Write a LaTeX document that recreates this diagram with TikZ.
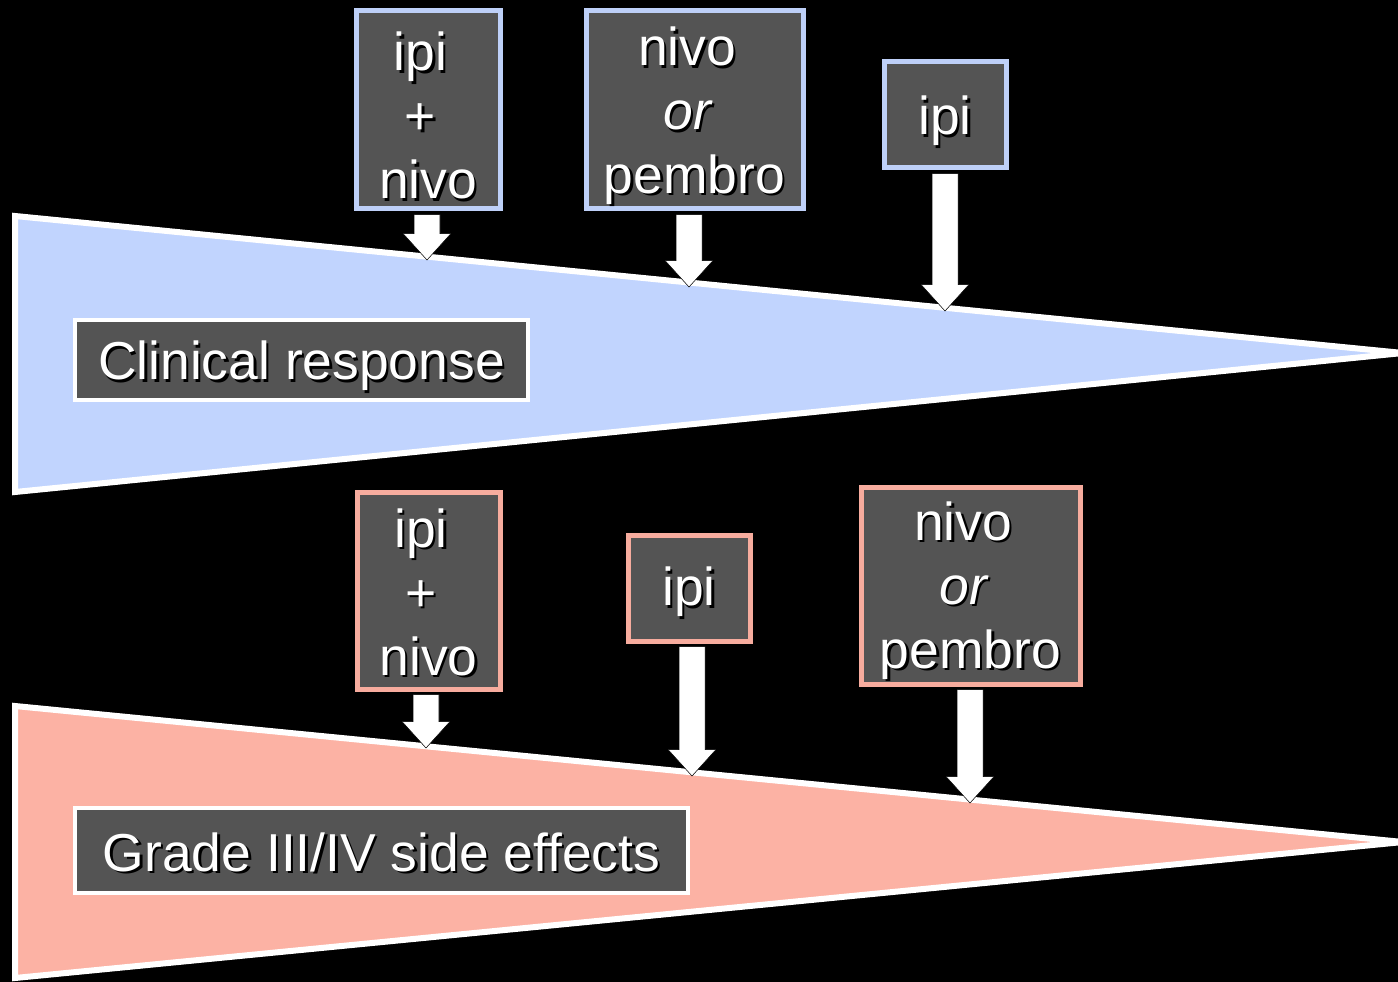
\documentclass[tikz,border=0pt]{standalone}
\usepackage{fontspec}
\setmainfont{Liberation Sans}
\usetikzlibrary{calc}
\newdimen\pxu \pxu=0.02cm
\definecolor{respblue}{RGB}{193,212,254}
\definecolor{sidesalmon}{RGB}{252,178,164}
\definecolor{boxgray}{RGB}{84,84,84}
\definecolor{boxblue}{RGB}{190,208,248}
\definecolor{boxsalmon}{RGB}{247,172,158}
\newcommand{\shtxt}[1]{\makebox[0pt][l]{\hspace{1.4pt}\raisebox{-1.4pt}{\color{black}#1}}#1}
\newcommand{\tsp}{\hbox to 0.278em{}}
% #1 box anchor, #2 tip coordinate
\newcommand{\blockarrow}[2]{%
  \filldraw[white, draw=black, line width=0.3pt] let \p1=(#1 -| #2), \p2=(#2) in
    (\x1-7.4pt,\y1-1.8pt) -- (\x1-7.4pt,\y2+15pt) -- (\x1-13.6pt,\y2+15pt) -- (\x1,\y2)
    -- (\x1+13.6pt,\y2+15pt) -- (\x1+7.4pt,\y2+15pt) -- (\x1+7.4pt,\y1-1.8pt) -- cycle;}
\begin{document}
\begin{tikzpicture}[x=0.02cm, y=-0.02cm,
  wedge/.style={draw=white, line width=6\pxu, line join=miter},
  drugbox/.style={fill=boxgray, line width=5\pxu, inner sep=0pt},
  bluebox/.style={drugbox, draw=boxblue},
  salmonbox/.style={drugbox, draw=boxsalmon},
  labelbox/.style={fill=boxgray, draw=white, line width=4\pxu, inner sep=0pt},
  boxtext/.style={inner sep=0pt, align=center, text=white,
    font=\fontsize{30.4}{36.4}\selectfont}]
\fill[black] (0,0) rectangle (1398,982);
\useasboundingbox (0,0) rectangle (1398,982);
\clip (0,0) rectangle (1398,982);

% wedges
\draw[wedge, fill=respblue] (15,216) -- (1403,353) -- (15,492) -- cycle;
\draw[wedge, fill=sidesalmon] (15,706) -- (1403,842) -- (15,978) -- cycle;

% label boxes
\node[labelbox, minimum width=453\pxu, minimum height=80\pxu] (resp) at (301.5,360) {};
\node[boxtext] (resptext) at ([yshift=-7\pxu]resp.center) {\shtxt{Clinical response}};
\node[labelbox, minimum width=613\pxu, minimum height=85\pxu] (side) at (381.5,850.5) {};
\node[boxtext] (sidetext) at ([yshift=-3\pxu]side.center) {\shtxt{Grade III/IV side effects}};

% drug boxes (top)
\node[bluebox, minimum width=144\pxu, minimum height=198\pxu] (b1) at (428,110) {};
\node[boxtext] (b1text) at ([yshift=-7\pxu]b1.center) {\shtxt{ipi}\tsp\\\shtxt{+}\tsp\\\shtxt{nivo}};
\node[bluebox, minimum width=217\pxu, minimum height=198\pxu] (b2) at (694.5,110) {};
\node[boxtext] (b2text) at ([yshift=-7\pxu]b2.center) {\shtxt{nivo}\tsp\\\shtxt{\itshape or}\tsp\\\shtxt{pembro}};
\node[bluebox, minimum width=122\pxu, minimum height=106\pxu] (b3) at (945,115) {};
\node[boxtext] (b3text) at ([yshift=-7\pxu]b3.center) {\shtxt{ipi}};

% drug boxes (bottom)
\node[salmonbox, minimum width=143\pxu, minimum height=197\pxu] (b4) at (428.5,590.5) {};
\node[boxtext] (b4text) at ([yshift=-3\pxu]b4.center) {\shtxt{ipi}\tsp\\\shtxt{+}\tsp\\\shtxt{nivo}};
\node[salmonbox, minimum width=122\pxu, minimum height=106\pxu] (b5) at (689,588) {};
\node[boxtext] (b5text) at ([yshift=-5\pxu]b5.center) {\shtxt{ipi}};
\node[salmonbox, minimum width=219\pxu, minimum height=197\pxu] (b6) at (970.5,585.5) {};
\node[boxtext] (b6text) at ([yshift=-6\pxu]b6.center) {\shtxt{nivo}\tsp\\\shtxt{\itshape or}\tsp\\\shtxt{pembro}};

% arrow tips
\coordinate (t1) at (427,260);
\coordinate (t2) at (689,287);
\coordinate (t3) at (945,311);
\coordinate (t4) at (426,748);
\coordinate (t5) at (692,776);
\coordinate (t6) at (970,803);

\blockarrow{b1.south}{t1}
\blockarrow{b2.south}{t2}
\blockarrow{b3.south}{t3}
\blockarrow{b4.south}{t4}
\blockarrow{b5.south}{t5}
\blockarrow{b6.south}{t6}
\end{tikzpicture}
\end{document}
